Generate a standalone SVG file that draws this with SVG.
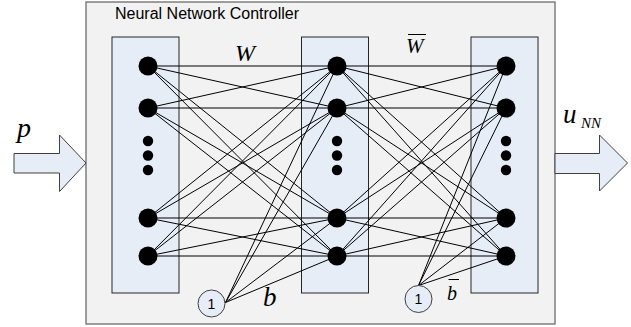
<svg xmlns="http://www.w3.org/2000/svg" width="631" height="327" viewBox="0 0 631 327">
<style>
.box{fill:#f2f2f2;stroke:#7f7f7f;stroke-width:1.5}
.col{fill:#e6edf7;stroke:#262626;stroke-width:1}
.arrow{fill:#e6edf7;stroke:#404040;stroke-width:1}
.node{fill:#000}
.bias{fill:#e6edf7;stroke:#404040;stroke-width:1}
.conn line{stroke:#000;stroke-width:1;fill:none}
.math{font-family:"Liberation Serif","Times New Roman",serif;font-style:italic;fill:#000}
.bar{stroke:#000;stroke-width:1}
.sans{font-family:"Liberation Sans",Arial,sans-serif;fill:#000}
</style>
<rect width="631" height="327" fill="#fff"/>
<g id="controller">
<rect class="box" x="86" y="2" width="469" height="322"/>
<text class="sans" x="115" y="18.5" font-size="16">Neural Network Controller</text>
</g>
<g id="input-arrow">
<polygon class="arrow" points="14,153.5 59.5,153.5 59.5,135 86,163 59.5,191.5 59.5,173 14,173"/>
<text class="math" x="17" y="136.5" font-size="28">p</text>
</g>
<g id="output-arrow">
<polygon class="arrow" points="555,153.5 599.5,153.5 599.5,135 627.5,163 599.5,191 599.5,173.5 555,173.5"/>
<text class="math" x="563" y="123" font-size="27">u</text>
<text class="math" x="581" y="128" font-size="15">NN</text>
</g>
<g id="layer-input"><rect class="col" x="112" y="37" width="67" height="256"/></g>
<g id="layer-hidden"><rect class="col" x="301.5" y="37" width="67" height="256"/></g>
<g id="layer-output"><rect class="col" x="471" y="37" width="67" height="256"/></g>
<g id="connectors" class="conn">
<line x1="148" y1="66" x2="337" y2="66"/><line x1="148" y1="66" x2="337" y2="108"/><line x1="148" y1="66" x2="337" y2="218"/><line x1="148" y1="66" x2="337" y2="256"/>
<line x1="148" y1="108" x2="337" y2="66"/><line x1="148" y1="108" x2="337" y2="108"/><line x1="148" y1="108" x2="337" y2="218"/><line x1="148" y1="108" x2="337" y2="256"/>
<line x1="148" y1="218" x2="337" y2="66"/><line x1="148" y1="218" x2="337" y2="108"/><line x1="148" y1="218" x2="337" y2="218"/><line x1="148" y1="218" x2="337" y2="256"/>
<line x1="148" y1="256" x2="337" y2="66"/><line x1="148" y1="256" x2="337" y2="108"/><line x1="148" y1="256" x2="337" y2="218"/><line x1="148" y1="256" x2="337" y2="256"/>
<line x1="337" y1="66" x2="506" y2="66"/><line x1="337" y1="66" x2="506" y2="108"/><line x1="337" y1="66" x2="506" y2="218"/><line x1="337" y1="66" x2="506" y2="256"/>
<line x1="337" y1="108" x2="506" y2="66"/><line x1="337" y1="108" x2="506" y2="108"/><line x1="337" y1="108" x2="506" y2="218"/><line x1="337" y1="108" x2="506" y2="256"/>
<line x1="337" y1="218" x2="506" y2="66"/><line x1="337" y1="218" x2="506" y2="108"/><line x1="337" y1="218" x2="506" y2="218"/><line x1="337" y1="218" x2="506" y2="256"/>
<line x1="337" y1="256" x2="506" y2="66"/><line x1="337" y1="256" x2="506" y2="108"/><line x1="337" y1="256" x2="506" y2="218"/><line x1="337" y1="256" x2="506" y2="256"/>
<line x1="225.5" y1="302.5" x2="337" y2="66"/><line x1="225.5" y1="302.5" x2="337" y2="108"/><line x1="225.5" y1="302.5" x2="337" y2="218"/><line x1="225.5" y1="302.5" x2="337" y2="256"/>
<line x1="418.5" y1="285.5" x2="506" y2="66"/><line x1="418.5" y1="285.5" x2="506" y2="108"/><line x1="418.5" y1="285.5" x2="506" y2="218"/><line x1="418.5" y1="285.5" x2="506" y2="256"/>
</g>
<g id="in1"><circle class="node" cx="148" cy="66" r="9.5"/></g>
<g id="in2"><circle class="node" cx="148" cy="108" r="9.5"/></g>
<g id="in-dots"><circle class="node" cx="148" cy="141" r="5.2"/><circle class="node" cx="148" cy="155.5" r="5.2"/><circle class="node" cx="148" cy="170" r="5.2"/></g>
<g id="in3"><circle class="node" cx="148" cy="218" r="9.5"/></g>
<g id="in4"><circle class="node" cx="148" cy="256" r="9.5"/></g>
<g id="h1"><circle class="node" cx="337" cy="66" r="9.5"/></g>
<g id="h2"><circle class="node" cx="337" cy="108" r="9.5"/></g>
<g id="h-dots"><circle class="node" cx="337" cy="141" r="5.2"/><circle class="node" cx="337" cy="155.5" r="5.2"/><circle class="node" cx="337" cy="170" r="5.2"/></g>
<g id="h3"><circle class="node" cx="337" cy="218" r="9.5"/></g>
<g id="h4"><circle class="node" cx="337" cy="256" r="9.5"/></g>
<g id="o1"><circle class="node" cx="506" cy="66" r="9.5"/></g>
<g id="o2"><circle class="node" cx="506" cy="108" r="9.5"/></g>
<g id="o-dots"><circle class="node" cx="506" cy="141" r="5.2"/><circle class="node" cx="506" cy="155.5" r="5.2"/><circle class="node" cx="506" cy="170" r="5.2"/></g>
<g id="o3"><circle class="node" cx="506" cy="218" r="9.5"/></g>
<g id="o4"><circle class="node" cx="506" cy="256" r="9.5"/></g>
<g id="bias1">
<circle class="bias" cx="211.5" cy="303.5" r="13.5"/>
<text class="sans" x="211.5" y="308.5" font-size="14" text-anchor="middle">1</text>
</g>
<g id="bias2">
<circle class="bias" cx="418.5" cy="299" r="13.5"/>
<text class="sans" x="418.5" y="304" font-size="14" text-anchor="middle">1</text>
</g>
<g id="labels">
<text class="math" x="235" y="61" font-size="24">W</text>
<text class="math" x="406" y="53" font-size="21">W</text>
<line class="bar" x1="408" y1="34.5" x2="426" y2="34.5"/>
<text class="math" x="263" y="306" font-size="27">b</text>
<text class="math" x="447" y="300" font-size="20">b</text>
<line class="bar" x1="448.5" y1="279.5" x2="459" y2="279.5"/>
</g>
</svg>
